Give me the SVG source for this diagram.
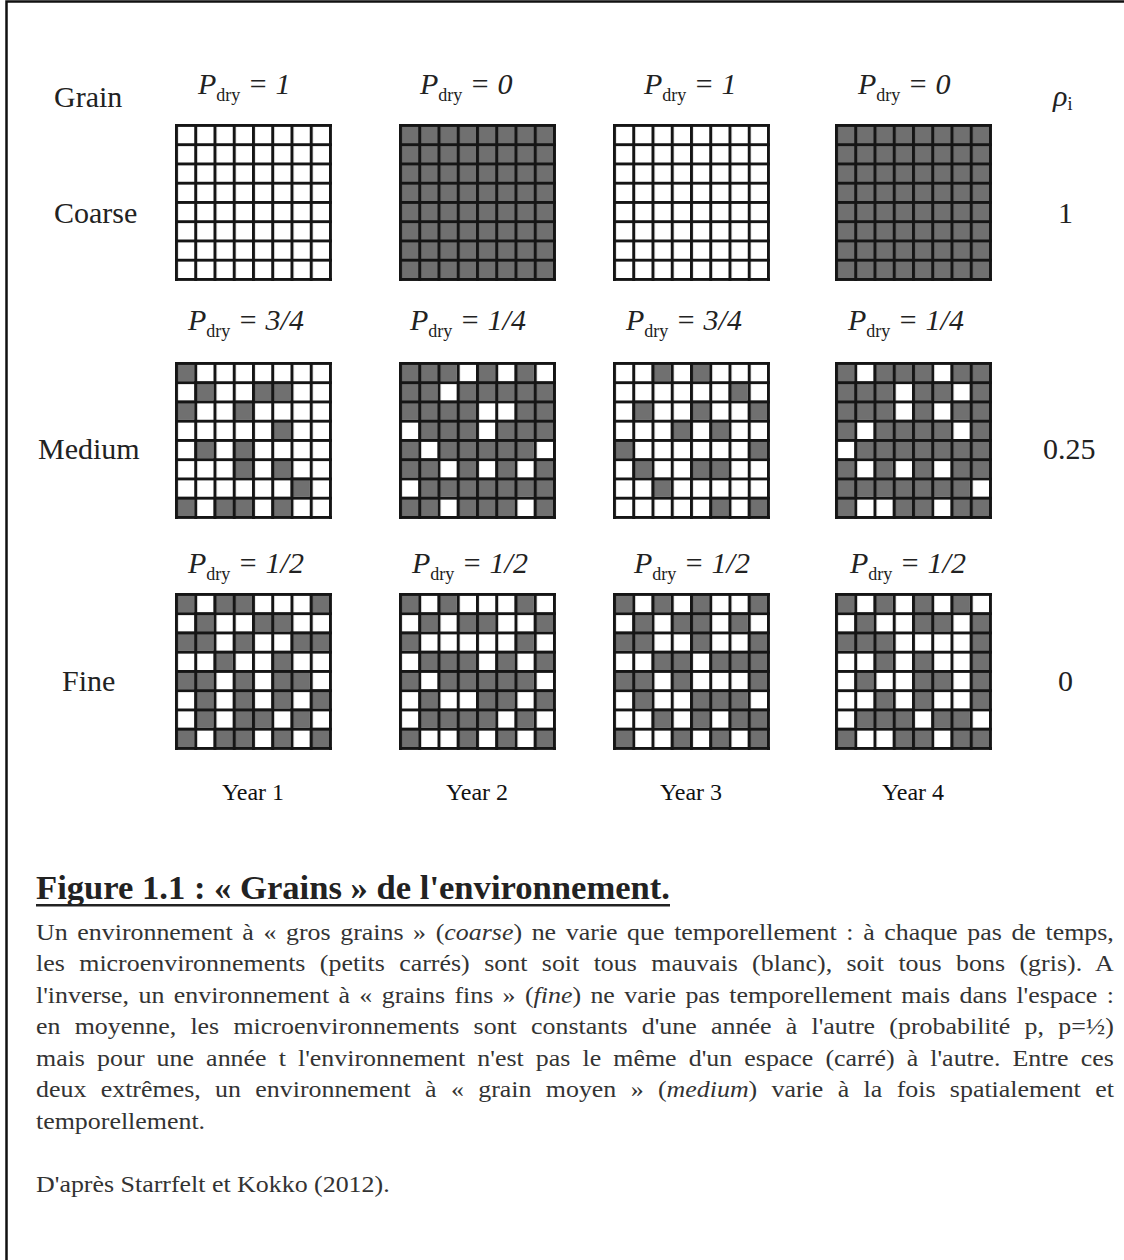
<svg xmlns="http://www.w3.org/2000/svg" width="1124" height="1260" viewBox="0 0 1124 1260">
<style>
.lab{font-family:"Liberation Serif","Times New Roman",serif;font-size:30px;fill:#222}
.pd{font-family:"Liberation Serif","Times New Roman",serif;font-size:30px;fill:#222;font-style:italic}
.sub{font-size:18px;font-style:normal}
.yr{font-family:"Liberation Serif","Times New Roman",serif;font-size:24px;fill:#111}
.body{font-family:"Liberation Serif","Times New Roman",serif;font-size:24px;fill:#333}
.title{font-family:"Liberation Serif","Times New Roman",serif;font-size:34px;font-weight:bold;fill:#222}
.wb{fill:#ffffff}
.gb{fill:#707070}
.gc{fill:#707070}
.wc{fill:#ffffff}
.gl{fill:url(#lines)}
</style>
<defs>
<pattern id="lines" width="19.25" height="19.25" patternUnits="userSpaceOnUse">
<path d="M0 0H19.25V3H0z M0 0H3V19.25H0z" fill="#151515"/>
</pattern>
</defs>
<rect width="1124" height="1260" fill="#ffffff"/>
<path d="M6.5 1260V1.5H1124" fill="none" stroke="#111" stroke-width="2.5"/>

<g id="row-labels">
<text class="lab" x="54" y="107">Grain</text>
<text class="lab" x="54" y="223">Coarse</text>
<text class="lab" x="38" y="459">Medium</text>
<text class="lab" x="62" y="691">Fine</text>
<text class="pd" x="1053" y="106">ρ<tspan class="sub" dy="4" font-style="italic">i</tspan></text>
<text class="lab" x="1058" y="223">1</text>
<text class="lab" x="1043" y="459">0.25</text>
<text class="lab" x="1058" y="691">0</text>
</g>

<g id="pdry-labels">
<text class="pd" x="198" y="94">P<tspan class="sub" dy="7">dry</tspan><tspan dy="-7"> = 1</tspan></text>
<text class="pd" x="420" y="94">P<tspan class="sub" dy="7">dry</tspan><tspan dy="-7"> = 0</tspan></text>
<text class="pd" x="644" y="94">P<tspan class="sub" dy="7">dry</tspan><tspan dy="-7"> = 1</tspan></text>
<text class="pd" x="858" y="94">P<tspan class="sub" dy="7">dry</tspan><tspan dy="-7"> = 0</tspan></text>
<text class="pd" x="188" y="330">P<tspan class="sub" dy="7">dry</tspan><tspan dy="-7"> = 3/4</tspan></text>
<text class="pd" x="410" y="330">P<tspan class="sub" dy="7">dry</tspan><tspan dy="-7"> = 1/4</tspan></text>
<text class="pd" x="626" y="330">P<tspan class="sub" dy="7">dry</tspan><tspan dy="-7"> = 3/4</tspan></text>
<text class="pd" x="848" y="330">P<tspan class="sub" dy="7">dry</tspan><tspan dy="-7"> = 1/4</tspan></text>
<text class="pd" x="188" y="573">P<tspan class="sub" dy="7">dry</tspan><tspan dy="-7"> = 1/2</tspan></text>
<text class="pd" x="412" y="573">P<tspan class="sub" dy="7">dry</tspan><tspan dy="-7"> = 1/2</tspan></text>
<text class="pd" x="634" y="573">P<tspan class="sub" dy="7">dry</tspan><tspan dy="-7"> = 1/2</tspan></text>
<text class="pd" x="850" y="573">P<tspan class="sub" dy="7">dry</tspan><tspan dy="-7"> = 1/2</tspan></text>
</g>

<g id="coarse-1" transform="translate(175,124)"><rect class="wb" width="157" height="157"/><rect class="gl" width="157" height="157"/></g>
<g id="coarse-2" transform="translate(399,124)"><rect class="gb" width="157" height="157"/><rect class="gl" width="157" height="157"/></g>
<g id="coarse-3" transform="translate(613,124)"><rect class="wb" width="157" height="157"/><rect class="gl" width="157" height="157"/></g>
<g id="coarse-4" transform="translate(835,124)"><rect class="gb" width="157" height="157"/><rect class="gl" width="157" height="157"/></g>

<g id="medium-1" transform="translate(175,362)"><rect class="wb" width="157" height="157"/>
<path class="gc" transform="scale(19.25)" d="M0 0h1v1h-1z M1 1h1v1h-1z M4 1h2v1h-2z M0 2h1v1h-1z M3 2h1v1h-1z M5 3h1v1h-1z M1 4h1v1h-1z M3 4h1v1h-1z M3 5h1v1h-1z M5 5h1v1h-1z M6 6h1v1h-1z M0 7h1v1h-1z M2 7h2v1h-2z M5 7h1v1h-1z"/>
<rect class="gl" width="157" height="157"/></g>
<g id="medium-2" transform="translate(399,362)"><rect class="gb" width="157" height="157"/>
<path class="wc" transform="scale(19.25)" d="M3 0h1v1h-1z M5 0h1v1h-1z M7 0h1v1h-1z M2 1h1v1h-1z M4 2h2v1h-2z M0 3h1v1h-1z M4 3h1v1h-1z M1 4h1v1h-1z M7 4h1v1h-1z M2 5h1v1h-1z M4 5h1v1h-1z M6 5h1v1h-1z M0 6h1v1h-1z M2 7h1v1h-1z M6 7h1v1h-1z"/>
<rect class="gl" width="157" height="157"/></g>
<g id="medium-3" transform="translate(613,362)"><rect class="wb" width="157" height="157"/>
<path class="gc" transform="scale(19.25)" d="M2 0h1v1h-1z M4 0h1v1h-1z M6 1h1v1h-1z M1 2h1v1h-1z M4 2h1v1h-1z M7 2h1v1h-1z M3 3h1v1h-1z M5 3h1v1h-1z M0 4h1v1h-1z M7 4h1v1h-1z M1 5h1v1h-1z M4 5h2v1h-2z M2 6h1v1h-1z M5 7h1v1h-1z M7 7h1v1h-1z"/>
<rect class="gl" width="157" height="157"/></g>
<g id="medium-4" transform="translate(835,362)"><rect class="gb" width="157" height="157"/>
<path class="wc" transform="scale(19.25)" d="M1 0h1v1h-1z M5 0h1v1h-1z M3 1h1v1h-1z M6 1h1v1h-1z M3 2h1v1h-1z M5 2h1v1h-1z M1 3h1v1h-1z M6 3h1v1h-1z M0 4h1v1h-1z M1 5h1v1h-1z M3 5h1v1h-1z M5 5h1v1h-1z M7 6h1v1h-1z M1 7h2v1h-2z M5 7h1v1h-1z"/>
<rect class="gl" width="157" height="157"/></g>

<g id="fine-1" transform="translate(175,593)"><rect class="wb" width="157" height="157"/>
<path class="gc" transform="scale(19.25)" d="M0 0h1v1h-1z M2 0h2v1h-2z M7 0h1v1h-1z M1 1h1v1h-1z M4 1h2v1h-2z M0 2h2v1h-2z M3 2h1v1h-1z M6 2h2v1h-2z M2 3h1v1h-1z M5 3h1v1h-1z M0 4h2v1h-2z M3 4h1v1h-1z M5 4h2v1h-2z M1 5h1v1h-1z M3 5h1v1h-1z M5 5h1v1h-1z M7 5h1v1h-1z M1 6h1v1h-1z M3 6h2v1h-2z M6 6h1v1h-1z M0 7h1v1h-1z M2 7h2v1h-2z M5 7h1v1h-1z M7 7h1v1h-1z"/>
<rect class="gl" width="157" height="157"/></g>
<g id="fine-2" transform="translate(399,593)"><rect class="wb" width="157" height="157"/>
<path class="gc" transform="scale(19.25)" d="M0 0h1v1h-1z M2 0h1v1h-1z M6 0h1v1h-1z M1 1h1v1h-1z M3 1h2v1h-2z M7 1h1v1h-1z M0 2h1v1h-1z M6 2h1v1h-1z M1 3h3v1h-3z M5 3h1v1h-1z M7 3h1v1h-1z M0 4h1v1h-1z M2 4h5v1h-5z M1 5h1v1h-1z M4 5h2v1h-2z M7 5h1v1h-1z M1 6h4v1h-4z M6 6h1v1h-1z M0 7h1v1h-1z M3 7h1v1h-1z M5 7h1v1h-1z M7 7h1v1h-1z"/>
<rect class="gl" width="157" height="157"/></g>
<g id="fine-3" transform="translate(613,593)"><rect class="wb" width="157" height="157"/>
<path class="gc" transform="scale(19.25)" d="M0 0h1v1h-1z M2 0h1v1h-1z M4 0h1v1h-1z M7 0h1v1h-1z M1 1h1v1h-1z M3 1h2v1h-2z M6 1h1v1h-1z M0 2h2v1h-2z M4 2h1v1h-1z M7 2h1v1h-1z M2 3h2v1h-2z M5 3h3v1h-3z M0 4h2v1h-2z M3 4h1v1h-1z M7 4h1v1h-1z M1 5h1v1h-1z M4 5h3v1h-3z M2 6h1v1h-1z M4 6h1v1h-1z M6 6h2v1h-2z M0 7h1v1h-1z M3 7h1v1h-1z M5 7h1v1h-1z M7 7h1v1h-1z"/>
<rect class="gl" width="157" height="157"/></g>
<g id="fine-4" transform="translate(835,593)"><rect class="wb" width="157" height="157"/>
<path class="gc" transform="scale(19.25)" d="M0 0h1v1h-1z M2 0h1v1h-1z M4 0h1v1h-1z M6 0h1v1h-1z M1 1h1v1h-1z M4 1h2v1h-2z M7 1h1v1h-1z M0 2h3v1h-3z M7 2h1v1h-1z M2 3h1v1h-1z M4 3h1v1h-1z M7 3h1v1h-1z M1 4h1v1h-1z M4 4h2v1h-2z M7 4h1v1h-1z M2 5h1v1h-1z M4 5h1v1h-1z M7 5h1v1h-1z M1 6h3v1h-3z M5 6h2v1h-2z M0 7h1v1h-1z M3 7h2v1h-2z M6 7h2v1h-2z"/>
<rect class="gl" width="157" height="157"/></g>

<g id="year-labels">
<text class="yr" x="253" y="800" text-anchor="middle">Year 1</text>
<text class="yr" x="477" y="800" text-anchor="middle">Year 2</text>
<text class="yr" x="691" y="800" text-anchor="middle">Year 3</text>
<text class="yr" x="913" y="800" text-anchor="middle">Year 4</text>
</g>

<g id="caption">
<text class="title" x="36" y="899" textLength="634" lengthAdjust="spacingAndGlyphs">Figure 1.1 : « Grains » de l'environnement.</text>
<rect x="36" y="904" width="634" height="2.5" fill="#222"/>
<g transform="translate(36,0) scale(1.08,1)">
<text class="body" x="0" y="940" word-spacing="2.9" textLength="998" lengthAdjust="spacing">Un environnement à « gros grains » (<tspan font-style="italic">coarse</tspan>) ne varie que temporellement : à chaque pas de temps,</text>
<text class="body" x="0" y="971.5" word-spacing="7.3" textLength="998" lengthAdjust="spacing">les microenvironnements (petits carrés) sont soit tous mauvais (blanc), soit tous bons (gris). A</text>
<text class="body" x="0" y="1003" word-spacing="2.7" textLength="998" lengthAdjust="spacing">l'inverse, un environnement à « grains fins » (<tspan font-style="italic">fine</tspan>) ne varie pas temporellement mais dans l'espace :</text>
<text class="body" x="0" y="1034.5" word-spacing="7.2" textLength="998" lengthAdjust="spacing">en moyenne, les microenvironnements sont constants d'une année à l'autre (probabilité p, p=½)</text>
<text class="body" x="0" y="1066" word-spacing="5.2" textLength="998" lengthAdjust="spacing">mais pour une année t l'environnement n'est pas le même d'un espace (carré) à l'autre. Entre ces</text>
<text class="body" x="0" y="1097.5" word-spacing="7.3" textLength="998" lengthAdjust="spacing">deux extrêmes, un environnement à « grain moyen » (<tspan font-style="italic">medium</tspan>) varie à la fois spatialement et</text>
<text class="body" x="0" y="1129">temporellement.</text>
<text class="body" x="0" y="1192">D'après Starrfelt et Kokko (2012).</text>
</g>
</g>
</svg>
